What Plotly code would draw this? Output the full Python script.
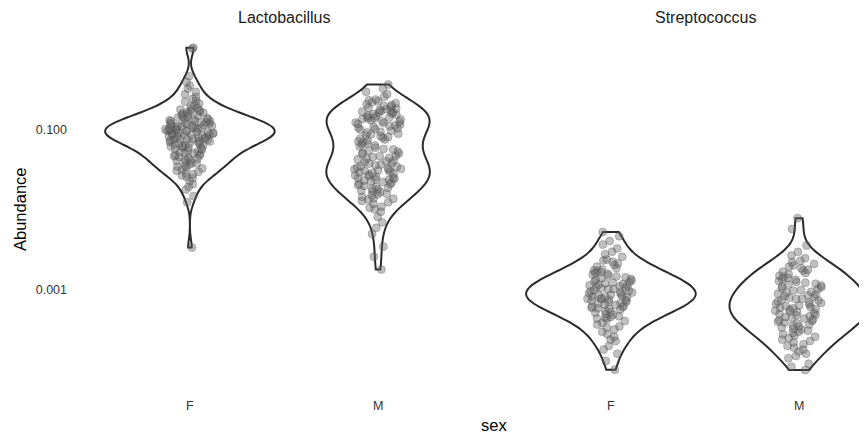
import numpy as np
import plotly.graph_objects as go

# ---------------- data ----------------
genera = ["Lactobacillus", "Streptococcus"]
sexes = ["F", "M"]
y_tick_values = [0.001, 0.1]
y_tick_labels = ["0.001", "0.100"]

lacto_F = [
    1.07, 1.04, 0.47, 0.40, 0.36, 0.33,
    0.30, 0.28, 0.26, 0.245,
    0.232, 0.225, 0.215, 0.205, 0.198, 0.19, 0.185, 0.18,
    0.176, 0.173, 0.170, 0.167, 0.164, 0.161, 0.158, 0.155, 0.152, 0.149,
    0.146, 0.143, 0.141, 0.139, 0.137, 0.135,
    0.132, 0.131, 0.129, 0.128, 0.126, 0.125, 0.123, 0.122, 0.120, 0.119,
    0.117, 0.116, 0.114, 0.113, 0.112, 0.111, 0.109, 0.108, 0.107, 0.106,
    0.105, 0.104, 0.103, 0.102, 0.101, 0.100,
    0.099, 0.098, 0.097, 0.096, 0.095, 0.094, 0.093, 0.092, 0.091, 0.090,
    0.089, 0.088, 0.087, 0.086, 0.085, 0.084, 0.083, 0.082, 0.081, 0.080,
    0.079, 0.078, 0.077, 0.0765, 0.076, 0.0755,
    0.074, 0.073, 0.072, 0.071, 0.070, 0.069, 0.068, 0.067, 0.066, 0.065,
    0.064, 0.063, 0.062, 0.061, 0.060, 0.059, 0.058, 0.057,
    0.055, 0.054, 0.053, 0.052, 0.051, 0.050, 0.049, 0.048, 0.047, 0.046,
    0.045, 0.044, 0.043, 0.042,
    0.041, 0.040, 0.039, 0.038, 0.037, 0.036, 0.035, 0.034, 0.033, 0.032,
    0.031, 0.030, 0.029, 0.028, 0.027, 0.026, 0.025,
    0.023, 0.021, 0.0195, 0.018,
    0.0150, 0.0125, 0.0034,
]

lacto_M = [
    0.37, 0.33, 0.30, 0.28, 0.26, 0.24,
    0.235, 0.228, 0.222, 0.216, 0.210, 0.205, 0.200, 0.195, 0.19, 0.186, 0.182, 0.179,
    0.176, 0.173, 0.170, 0.167, 0.164, 0.161, 0.158, 0.155, 0.152, 0.149,
    0.146, 0.143, 0.141, 0.139, 0.137, 0.135,
    0.132, 0.129, 0.127, 0.124, 0.122, 0.119, 0.117, 0.114, 0.112, 0.110,
    0.107, 0.105, 0.103, 0.101,
    0.098, 0.095, 0.093, 0.090, 0.088, 0.086, 0.084, 0.082, 0.080, 0.078, 0.076,
    0.074, 0.072, 0.070, 0.068, 0.066, 0.064, 0.062, 0.060, 0.058, 0.057,
    0.055, 0.054, 0.052, 0.051, 0.050, 0.048, 0.047, 0.046, 0.045, 0.044, 0.043,
    0.0415, 0.0405, 0.0395, 0.0388, 0.038, 0.037, 0.0362, 0.0355, 0.0348, 0.034,
    0.0333, 0.0327, 0.0322, 0.0318,
    0.0313, 0.0307, 0.0301, 0.0295, 0.029, 0.0284, 0.0278, 0.0272, 0.0266, 0.026,
    0.0255, 0.025, 0.0246, 0.0242, 0.0238,
    0.0234, 0.0229, 0.0224, 0.022, 0.0215, 0.021, 0.0205, 0.02, 0.0195, 0.019,
    0.0185, 0.018,
    0.0175, 0.0172, 0.0168, 0.016, 0.0157, 0.0153, 0.0146, 0.014, 0.0138, 0.0135,
    0.013, 0.0125, 0.012, 0.011, 0.0107, 0.0102,
    0.0095, 0.0082, 0.007, 0.006,
    0.0050, 0.0035, 0.0026, 0.0018,
]

strep_F = [
    0.0053, 0.0047, 0.0041, 0.0037, 0.0033, 0.0030, 0.0028, 0.0026, 0.0024,
    0.00233, 0.00225, 0.00215, 0.00205, 0.00196, 0.00188, 0.0018,
    0.00176, 0.00172, 0.00168, 0.00164, 0.0016, 0.00156, 0.00152, 0.00148,
    0.00144, 0.0014, 0.00137, 0.00134,
    0.00131, 0.00128, 0.00126, 0.00124, 0.00121, 0.00119, 0.00117, 0.00115,
    0.00113, 0.00111, 0.00109, 0.00107, 0.00105, 0.00103, 0.00102, 0.00100,
    0.00098, 0.00096, 0.00094, 0.00093, 0.00091, 0.00089, 0.00088, 0.00086,
    0.00085, 0.00083, 0.00082, 0.00081, 0.00079, 0.00078, 0.00077, 0.00076, 0.00075,
    0.00074, 0.00072, 0.00071, 0.00069, 0.00068, 0.00066, 0.00065, 0.00064,
    0.00062, 0.00061, 0.0006, 0.00059, 0.00058, 0.00057,
    0.00055, 0.00053, 0.00052, 0.0005, 0.00049, 0.00047, 0.00046, 0.00045,
    0.00044, 0.00043,
    0.00041, 0.00039, 0.00037, 0.00035, 0.00034, 0.00032,
    0.0003, 0.00028, 0.00026, 0.00024,
    0.00023, 0.0002, 0.00018,
    0.00016, 0.00013, 0.000101,
]

strep_M = [
    0.0079, 0.0058, 0.0036, 0.003, 0.0027, 0.0025,
    0.00232, 0.00222, 0.00212, 0.00203, 0.00195, 0.00187, 0.0018,
    0.00175, 0.00169, 0.00163, 0.00157, 0.00151, 0.00146, 0.00141, 0.00137, 0.00134,
    0.0013, 0.00126, 0.00123, 0.0012, 0.00117, 0.00114, 0.00111, 0.00108,
    0.00105, 0.00103, 0.001,
    0.00098, 0.00095, 0.00093, 0.0009, 0.00088, 0.00086, 0.00084, 0.00082,
    0.0008, 0.00078, 0.00077, 0.00075,
    0.00074, 0.00072, 0.0007, 0.00069, 0.00067, 0.00066, 0.00064, 0.00063,
    0.00061, 0.0006, 0.00059, 0.00058, 0.00057,
    0.00055, 0.00054, 0.00053, 0.00052, 0.0005, 0.00049, 0.00048, 0.00047,
    0.00046, 0.00045, 0.00044, 0.00043, 0.00042,
    0.00041, 0.0004, 0.00039, 0.00038, 0.00037, 0.00036, 0.00035, 0.00034,
    0.00033, 0.00032,
    0.00031, 0.0003, 0.00029, 0.00028, 0.00027, 0.00026, 0.00025, 0.00024,
    0.00023, 0.00022, 0.00021, 0.0002, 0.00019, 0.00018,
    0.00017, 0.00016, 0.00015, 0.00014,
    0.00012, 0.00011, 0.0001,
]

groups = {
    ("Lactobacillus", "F"): lacto_F,
    ("Lactobacillus", "M"): lacto_M,
    ("Streptococcus", "F"): strep_F,
    ("Streptococcus", "M"): strep_M,
}

# ---------------- styling / layout ----------------
W, H = 867, 435
OFF = 8  # the page body adds an 8px margin; compensate so the chart sits like the reference
FONT = "Liberation Sans, Arial, sans-serif"
violin_width = {
    ("Lactobacillus", "F"): 0.90,
    ("Lactobacillus", "M"): 0.55,
    ("Streptococcus", "F"): 0.90,
    ("Streptococcus", "M"): 0.74,
}
jitter_px = 25  # half spread of jitter in pixels
unit_px = 188.2


def bw_nrd0(v):
    v = np.asarray(v)
    sd = np.std(v, ddof=1)
    q75, q25 = np.quantile(v, [0.75, 0.25])
    return 0.9 * min(sd, (q75 - q25) / 1.34) * len(v) ** -0.2


fig = go.Figure()
for gi, genus in enumerate(genera):
    xa = "x" if gi == 0 else "x2"
    for sex in sexes:
        vals = np.log10(np.array(groups[(genus, sex)]))
        w = violin_width[(genus, sex)]
        half_px = w / 2 * unit_px
        fig.add_trace(go.Violin(
            x=[sex] * len(vals), y=vals,
            xaxis=xa, yaxis="y",
            width=w, scalemode="width", scalegroup=f"{genus}-{sex}",
            spanmode="hard", bandwidth=bw_nrd0(vals),
            line=dict(color="#2b2b2b", width=2),
            fillcolor="rgba(0,0,0,0)",
            points="all", pointpos=0, jitter=min(1.0, jitter_px / half_px),
            marker=dict(size=8, color="rgba(105,105,105,0.42)",
                        line=dict(width=0.6, color="rgba(60,60,60,0.45)")),
            box_visible=False, meanline_visible=False,
            showlegend=False, hoverinfo="skip", hoveron="points",
        ))


def px_x(p):  # target window pixel -> paper fraction
    return (p - OFF) / W


def px_y(p):
    return 1 - (p - OFF) / H


pan1 = (77, 491)
pan2_left = 498
ytop, ybot = 30, 388
pan2_right_fig = W  # figure edge
pan2_width = pan2_right_fig - (pan2_left - OFF)

axis_common = dict(showgrid=False, zeroline=False, showline=False, ticks="",
                   automargin=False, ticklabelstandoff=8,
                   type="category", categoryorder="array", categoryarray=sexes,
                   tickfont=dict(family=FONT, size=12.5, color="#333333"), anchor="y")

fig.update_layout(
    template="none",
    width=W, height=H,
    margin=dict(l=0, r=0, t=0, b=0, pad=0),
    paper_bgcolor="white", plot_bgcolor="white",
    violinmode="overlay",
    font=dict(family=FONT),
    xaxis=dict(domain=[px_x(pan1[0]), px_x(pan1[1])], range=[-0.6, 1.6], **axis_common),
    xaxis2=dict(domain=[px_x(pan2_left), 1.0],
                range=[-0.6, -0.6 + pan2_width / unit_px], **axis_common),
    yaxis=dict(domain=[px_y(ybot), px_y(ytop)], range=[-4.225, 0.25],
               automargin=False, ticklabelstandoff=9,
               showgrid=False, zeroline=False, showline=False, ticks="",
               tickvals=list(np.log10(y_tick_values)), ticktext=y_tick_labels,
               tickfont=dict(family=FONT, size=12.5, color="#333333")),
    annotations=[
        dict(text="Lactobacillus", x=px_x((pan1[0] + pan1[1]) / 2), y=px_y(18),
             xref="paper", yref="paper", showarrow=False,
             xanchor="center", yanchor="middle",
             font=dict(family=FONT, size=16, color="#1a1a1a")),
        dict(text="Streptococcus", x=px_x(pan2_left + 414 / 2), y=px_y(18),
             xref="paper", yref="paper", showarrow=False,
             xanchor="center", yanchor="middle",
             font=dict(family=FONT, size=16, color="#1a1a1a")),
        dict(text="Abundance", x=px_x(20), y=px_y((ytop + ybot) / 2),
             xref="paper", yref="paper", showarrow=False, textangle=-90,
             xanchor="center", yanchor="middle",
             font=dict(family=FONT, size=16.5, color="black")),
        dict(text="sex", x=px_x(494), y=px_y(425),
             xref="paper", yref="paper", showarrow=False,
             xanchor="center", yanchor="middle",
             font=dict(family=FONT, size=16.5, color="black")),
    ],
)

fig.write_html("out.html")
